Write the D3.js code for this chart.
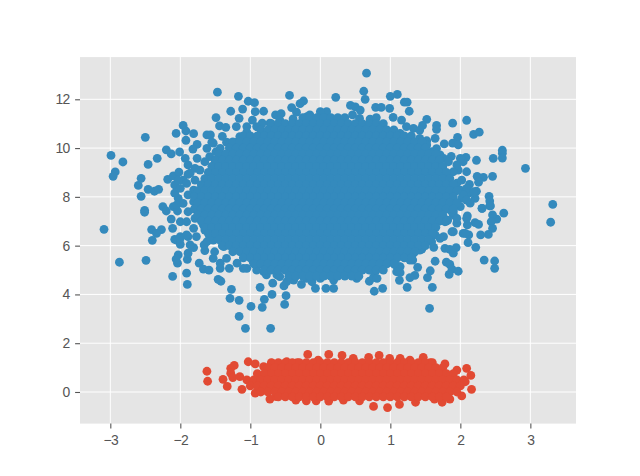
<!DOCTYPE html>
<html><head><meta charset="utf-8">
<script src="https://cdn.jsdelivr.net/npm/d3@7"></script>
<style>html,body{margin:0;background:#fff}svg{display:block}</style></head>
<body><svg id="c" width="640" height="476"></svg>
<script>
const xTicks=[-3,-2,-1,0,1,2,3];
const yTicks=[0,2,4,6,8,10,12];
const blueColor="#348ABD", redColor="#E24A33";
// outer blue dots read one by one
const blueEdge=[[-1.47,12.29],[-1.17,12.12],[-1.03,11.92],[-.94,11.86],[-1.28,11.51],[-1.11,11.6],[-.44,12.16],[-.24,11.93],[-.29,11.82],[-.41,11.66],[-.34,11.47],[-1.49,11.25],[-1.16,11.22],[-.93,11.49],[-.81,11.51],[-.97,11.15],[-.64,11.36],[-.56,11.41],[-.83,11.02],[-1.44,10.91],[-1.35,10.85],[-1.2,10.88],[-1.05,10.88],[-1.96,10.93],[-1.92,10.7],[-1.81,10.59],[-2.06,10.6],[-2.5,10.44],[-1.62,10.54],[-1.57,10.54],[-1.4,10.48],[-1.92,10.32],[-1.76,10.15],[-1.53,10.2],[-1.34,10.24],[-1.19,10.24],[-1.82,9.96],[-1.62,9.99],[-2.2,9.93],[-2.13,9.76],[-2.01,9.84],[-1.93,9.58],[-1.49,9.85],[-2.99,9.7],[-2.82,9.43],[-2.33,9.58],[-2.46,9.33],[-2.93,9.02],[-2.96,8.84],[-2.56,8.76],[-2.6,8.47],[-2.46,8.31],[-2.37,8.23],[-2.31,8.31],[-2.56,8.02],[-2.18,8.72],[-2.1,8.86],[-2.02,9.01],[-1.89,9.31],[-1.76,9.58],[-1.65,9.44],[-1.89,8.92],[-1.96,8.69],[-2.08,8.49],[-1.81,8.28],[-2.03,7.94],[-2.25,7.6],[-2.1,7.6],[-2.51,7.45],[-2.51,7.37],[-2.2,7.42],[-2.04,7.42],[-2.13,7.09],[-2,6.98],[-2.11,6.71],[-3.09,6.67],[-2.41,6.66],[-2.27,6.66],[-2.4,6.22],[-2.34,6.5],[-2.08,6.26],[-2,6.37],[-1.89,6.37],
[-2.87,5.32],[-2.49,5.4],[-2.11,4.74],[-1.91,4.87],[-1.9,4.41],[-2.04,5.28],[-2.03,5.62],[-2.06,5.45],[-1.9,5.44],[-1.89,5.69],[-1.81,5.92],[-1.65,5.8],[-1.66,6.03],[-1.51,5.75],[-1.53,5.48],[-1.73,5.28],[-1.67,5.04],[-1.59,5],[-1.43,5.07],[-1.3,5.07],[-1.46,4.62],[-1.42,4.54],[-1.27,4.21],[-1.29,3.84],[-1.16,3.76],[-.99,3.51],[-1.16,3.1],[-1.07,2.61],[-.71,2.61],[-.86,4.29],[-.8,3.8],[-.83,3.47],[-.69,4],[-.49,3.95],[-.51,3.59],[-.68,4.46],[-.52,4.35],[-.48,4.52],[-.27,4.41],[-.12,4.52],[-.07,4.25],[-2.05,6.23],[-2,6.05],[-1.91,6.44],[-1.05,5.07],[-.96,5.34],[-.81,4.93],[-.62,4.8],[-.38,4.8],[0,4.66],
[3.32,7.69],[3.29,6.96],[2.62,7.33],[2.52,7.09],[2.46,7.26],[2.44,6.98],[2.46,6.71],[2.4,6.46],[2.29,6.44],[2.1,7.22],[2.21,6.94],[2.26,6.87],[2.1,6.85],[2.04,6.5],[2.12,6.44],[2.11,6.12],[2.22,5.93],[2.34,5.41],[2.49,5.37],[2.49,5.07],[1.78,5.89],[1.85,5.85],[1.94,5.92],[1.9,5.69],[1.62,5.93],[1.45,5.86],[1.64,5.36],[1.8,5.32],[1.85,5.23],[1.88,5.04],[1.97,4.95],[1.84,4.82],[1.57,4.97],[1.53,4.69],[1.6,4.29],[1.39,5.11],[1.35,4.78],[1.28,4.69],[1.24,4.29],[1.13,4.58],[1.14,4.89],[1.32,5.41],[1.56,3.43],[.89,4.25],[.77,4.13],[.7,4.54],[.76,4.7],[.81,4.66],[.52,4.66],[.44,4.87],[.31,4.97],[.31,4.89],[.19,4.25],[.08,4.25],[.19,4.59],[.09,4.8],[.69,5.14],[1.14,5.14],[1.07,5.21],[.5,4.8],[2,7.6],[2.31,7.53],[2.42,7.63],[1.9,7.26],[1.95,6.92],[1.82,7.05],[1.88,6.57],
[.66,13.07],[.62,12.33],[.64,12],[.22,12.08],[1,12.12],[1.1,12.2],[1.2,11.88],[1.24,11.88],[1.27,11.51],[.43,11.75],[.5,11.69],[.57,11.56],[.79,11.67],[.87,11.67],[.99,11.63],[1.04,11.26],[1.16,11.15],[.71,11.19],[.8,11.25],[.46,11.36],[.56,11.22],[.09,11.49],[1.52,11.18],[1.46,10.93],[1.66,10.93],[1.66,10.77],[1.89,11.02],[2.09,11.14],[2.19,10.56],[2.27,10.65],[1.64,10.4],[1.96,10.44],[1.77,10.17],[1.89,10.2],[1.97,10.13],[1.66,9.98],[1.33,10.81],[1.52,10.3],[2.6,9.91],[2.6,9.79],[2.6,9.59],[2.47,9.58],[2.23,9.5],[2.93,9.17],[2.08,9.62],[1.87,9.66],[2.04,9.44],[2.09,9.03],[2.24,8.84],[2.33,8.8],[2.46,8.84],[2.26,8.6],[2.13,8.51],[2.23,8.23],[2.12,8.15],[2.41,8.02],[2.42,7.83],[2.43,7.63],[2.21,7.94],[2.14,7.74],[2.31,7.53],[1.95,8.56],[2,8.28],[2.02,7.94],[1.9,7.39],[1.81,7.94],[1.81,8.9],[1.76,9.58],[1.97,9.1],[-.15,11.36],[0,11.49],[.21,11.15],[.35,10.95]];
// blue dots in the crowded band around the solid mass
const blueBand=[[-1.55,10.24],[-1.43,9.99],[-1.29,10.2],[-1.15,10.47],[-1.05,10.65],[-.91,10.88],[-.72,11.02],[-.58,11.15],[-.39,11.2],[-.19,11.29],[-1.58,9.65],[-1.5,9.44],[-1.79,9.17],[-1.72,9.1],[-1.86,8.97],[-2.03,8.69],[-1.91,8.55],[-1.79,8.69],[-2.08,8.15],[-2,8.35],[-1.89,8.08],[-1.81,7.8],[-1.96,7.73],[-2.05,7.67],[-1.89,7.39],[-1.79,7.12],[-1.91,6.98],[-1.81,6.71],[-1.67,6.85],[-1.77,6.37],[-1.62,6.16],[-1.86,6.03],[-1.65,6.64],[-2,6.3],[-1.53,6.23],[-1.58,6.37],[-1.38,5.96],[-1.34,5.48],[-1.43,5.28],[-1.19,5.28],[-1.1,5.07],[-.91,5],[-.77,4.8],[-.58,4.73],[-.2,4.66],[-.38,4.59],
[1.42,10.74],[1.23,10.88],[1.14,10.6],[1.52,10.13],[1.42,10.4],[1.59,9.85],[1.71,9.72],[1.83,9.44],[1.95,9.31],[2,9.58],[1.9,9.03],[2.02,8.69],[2.09,8.35],[1.9,8.21],[2.04,8.08],[2.19,8.21],[2.09,7.87],[1.95,7.67],[1.88,7.39],[2.09,7.12],[1.95,7.12],[1.78,6.98],[1.9,6.57],[2.07,6.5],[1.76,6.37],[1.64,6.44],[1.71,6.3],[1.59,6.16],[1.42,5.82],[1.33,5.69],[1.28,5.41],[1.12,5.14],[1.09,4.93],[.78,5],[.62,5.07]];
// solid blue mass: estimated dots, one x list per y row
const blueRowY=[11.25,11,10.75,10.5,10.25,10,9.75,9.5,9.25,9,8.75,8.5,8.25,8,7.75,7.5,7.25,7,6.75,6.5,6.25,6,5.75,5.5,5.25,5,4.75];
const blueRowX=[
[-.25,-.15,-.05,.05,.15,.25,.35],
[-.7,-.6,-.5,-.4,-.3,-.2,-.1,0,.1,.2,.3,.4,.5,.6,.7,.8,.9],
[-.85,-.75,-.65,-.55,-.45,-.35,-.25,-.15,-.05,.05,.15,.25,.35,.45,.55,.65,.75,.85,.95,1.05],
[-1.1,-1,-.9,-.8,-.7,-.6,-.5,-.4,-.3,-.2,-.1,0,.1,.2,.3,.4,.5,.6,.7,.8,.9,1,1.1,1.2,1.3],
[-1.25,-1.15,-1.05,-.95,-.85,-.75,-.65,-.55,-.45,-.35,-.25,-.15,-.05,.05,.15,.25,.35,.45,.55,.65,.75,.85,.95,1.05,1.15,1.25,1.35,1.45],
[-1.3,-1.2,-1.1,-1,-.9,-.8,-.7,-.6,-.5,-.4,-.3,-.2,-.1,0,.1,.2,.3,.4,.5,.6,.7,.8,.9,1,1.1,1.2,1.3,1.4,1.5],
[-1.45,-1.35,-1.25,-1.15,-1.05,-.95,-.85,-.75,-.65,-.55,-.45,-.35,-.25,-.15,-.05,.05,.15,.25,.35,.45,.55,.65,.75,.85,.95,1.05,1.15,1.25,1.35,1.45,1.55,1.65],
[-1.5,-1.4,-1.3,-1.2,-1.1,-1,-.9,-.8,-.7,-.6,-.5,-.4,-.3,-.2,-.1,0,.1,.2,.3,.4,.5,.6,.7,.8,.9,1,1.1,1.2,1.3,1.4,1.5,1.6,1.7],
[-1.55,-1.45,-1.35,-1.25,-1.15,-1.05,-.95,-.85,-.75,-.65,-.55,-.45,-.35,-.25,-.15,-.05,.05,.15,.25,.35,.45,.55,.65,.75,.85,.95,1.05,1.15,1.25,1.35,1.45,1.55,1.65,1.75],
[-1.6,-1.5,-1.4,-1.3,-1.2,-1.1,-1,-.9,-.8,-.7,-.6,-.5,-.4,-.3,-.2,-.1,0,.1,.2,.3,.4,.5,.6,.7,.8,.9,1,1.1,1.2,1.3,1.4,1.5,1.6,1.7,1.8],
[-1.65,-1.55,-1.45,-1.35,-1.25,-1.15,-1.05,-.95,-.85,-.75,-.65,-.55,-.45,-.35,-.25,-.15,-.05,.05,.15,.25,.35,.45,.55,.65,.75,.85,.95,1.05,1.15,1.25,1.35,1.45,1.55,1.65,1.75,1.85],
[-1.7,-1.6,-1.5,-1.4,-1.3,-1.2,-1.1,-1,-.9,-.8,-.7,-.6,-.5,-.4,-.3,-.2,-.1,0,.1,.2,.3,.4,.5,.6,.7,.8,.9,1,1.1,1.2,1.3,1.4,1.5,1.6,1.7,1.8,1.9],
[-1.75,-1.65,-1.55,-1.45,-1.35,-1.25,-1.15,-1.05,-.95,-.85,-.75,-.65,-.55,-.45,-.35,-.25,-.15,-.05,.05,.15,.25,.35,.45,.55,.65,.75,.85,.95,1.05,1.15,1.25,1.35,1.45,1.55,1.65,1.75,1.85,1.95],
[-1.8,-1.7,-1.6,-1.5,-1.4,-1.3,-1.2,-1.1,-1,-.9,-.8,-.7,-.6,-.5,-.4,-.3,-.2,-.1,0,.1,.2,.3,.4,.5,.6,.7,.8,.9,1,1.1,1.2,1.3,1.4,1.5,1.6,1.7,1.8,1.9],
[-1.75,-1.65,-1.55,-1.45,-1.35,-1.25,-1.15,-1.05,-.95,-.85,-.75,-.65,-.55,-.45,-.35,-.25,-.15,-.05,.05,.15,.25,.35,.45,.55,.65,.75,.85,.95,1.05,1.15,1.25,1.35,1.45,1.55,1.65,1.75,1.85,1.95],
[-1.8,-1.7,-1.6,-1.5,-1.4,-1.3,-1.2,-1.1,-1,-.9,-.8,-.7,-.6,-.5,-.4,-.3,-.2,-.1,0,.1,.2,.3,.4,.5,.6,.7,.8,.9,1,1.1,1.2,1.3,1.4,1.5,1.6,1.7,1.8,1.9],
[-1.75,-1.65,-1.55,-1.45,-1.35,-1.25,-1.15,-1.05,-.95,-.85,-.75,-.65,-.55,-.45,-.35,-.25,-.15,-.05,.05,.15,.25,.35,.45,.55,.65,.75,.85,.95,1.05,1.15,1.25,1.35,1.45,1.55,1.65,1.75],
[-1.7,-1.6,-1.5,-1.4,-1.3,-1.2,-1.1,-1,-.9,-.8,-.7,-.6,-.5,-.4,-.3,-.2,-.1,0,.1,.2,.3,.4,.5,.6,.7,.8,.9,1,1.1,1.2,1.3,1.4,1.5,1.6,1.7,1.8],
[-1.65,-1.55,-1.45,-1.35,-1.25,-1.15,-1.05,-.95,-.85,-.75,-.65,-.55,-.45,-.35,-.25,-.15,-.05,.05,.15,.25,.35,.45,.55,.65,.75,.85,.95,1.05,1.15,1.25,1.35,1.45,1.55,1.65],
[-1.6,-1.5,-1.4,-1.3,-1.2,-1.1,-1,-.9,-.8,-.7,-.6,-.5,-.4,-.3,-.2,-.1,0,.1,.2,.3,.4,.5,.6,.7,.8,.9,1,1.1,1.2,1.3,1.4,1.5,1.6],
[-1.45,-1.35,-1.25,-1.15,-1.05,-.95,-.85,-.75,-.65,-.55,-.45,-.35,-.25,-.15,-.05,.05,.15,.25,.35,.45,.55,.65,.75,.85,.95,1.05,1.15,1.25,1.35,1.45,1.55],
[-1.4,-1.3,-1.2,-1.1,-1,-.9,-.8,-.7,-.6,-.5,-.4,-.3,-.2,-.1,0,.1,.2,.3,.4,.5,.6,.7,.8,.9,1,1.1,1.2,1.3,1.4,1.5],
[-1.25,-1.15,-1.05,-.95,-.85,-.75,-.65,-.55,-.45,-.35,-.25,-.15,-.05,.05,.15,.25,.35,.45,.55,.65,.75,.85,.95,1.05,1.15,1.25,1.35],
[-1.1,-1,-.9,-.8,-.7,-.6,-.5,-.4,-.3,-.2,-.1,0,.1,.2,.3,.4,.5,.6,.7,.8,.9,1,1.1,1.2,1.3],
[-.95,-.85,-.75,-.65,-.55,-.45,-.35,-.25,-.15,-.05,.05,.15,.25,.35,.45,.55,.65,.75,.85,.95,1.05],
[-.8,-.7,-.6,-.5,-.4,-.3,-.2,-.1,0,.1,.2,.3,.4,.5,.6,.7,.8,.9],
[-.45,-.35,-.25,-.15,-.05,.05,.15,.25,.35,.45,.55]];
// outer red dots read one by one
const redEdge=[[-1.62,.85],[-1.61,.44],[-1.39,.52],[-1.33,.23],[-1.28,.97],[-1.23,1.09],[-1.28,.77],[-1.25,.59],[-1.15,.63],[-1.12,.11],[-1.03,1.24],[-.93,1.15],[-.18,1.54],[.12,1.54],[.31,1.5],[.47,1.38],[.69,1.42],[.84,1.5],[1.14,1.38],[1.47,1.42],[1.78,1.15],[2.09,.97],[2.15,.68],[2.16,.11],[2.02,-.16],[1.85,-.29],[1.74,-.42],[1.63,-.29],[1.36,-.42],[1.13,-.51],[.96,-.64],[.76,-.59],[.56,-.36],[.33,-.33],[.12,-.37],[-.06,-.36],[-.2,-.36],[-.35,-.33],[-.72,-.29],[-.63,-.19],[-.93,-.05],[-.48,1.24],[-.33,1.2],[-.69,1.18],[-.6,1.15],[-.81,1.04],[-.03,1.31],[.99,1.38],[1.28,1.31],[1.57,1.2],[1.95,.9],[2.07,.42]];
// solid red mass: estimated dots, one x list per y row
const redRowY=[1.2,1,.75,.5,.25,0,-.2];
const redRowX=[
[-.7,-.6,-.5,-.4,-.3,-.2,-.1,0,.1,.2,.3,.4,.5,.6,.7,.8,.9,1,1.1,1.2,1.3,1.4,1.5,1.6],
[-.75,-.65,-.55,-.45,-.35,-.25,-.15,-.05,.05,.15,.25,.35,.45,.55,.65,.75,.85,.95,1.05,1.15,1.25,1.35,1.45,1.55,1.65,1.75],
[-.9,-.8,-.7,-.6,-.5,-.4,-.3,-.2,-.1,0,.1,.2,.3,.4,.5,.6,.7,.8,.9,1,1.1,1.2,1.3,1.4,1.5,1.6,1.7,1.8,1.9],
[-1.05,-.95,-.85,-.75,-.65,-.55,-.45,-.35,-.25,-.15,-.05,.05,.15,.25,.35,.45,.55,.65,.75,.85,.95,1.05,1.15,1.25,1.35,1.45,1.55,1.65,1.75,1.85,1.95,2.05],
[-1,-.9,-.8,-.7,-.6,-.5,-.4,-.3,-.2,-.1,0,.1,.2,.3,.4,.5,.6,.7,.8,.9,1,1.1,1.2,1.3,1.4,1.5,1.6,1.7,1.8,1.9,2],
[-.85,-.75,-.65,-.55,-.45,-.35,-.25,-.15,-.05,.05,.15,.25,.35,.45,.55,.65,.75,.85,.95,1.05,1.15,1.25,1.35,1.45,1.55,1.65,1.75,1.85,1.95],
[-.6,-.5,-.4,-.3,-.2,-.1,0,.1,.2,.3,.4,.5,.6,.7,.8,.9,1,1.1,1.2,1.3,1.4,1.5,1.6,1.7,1.8]];

const pL=80,pR=576,pT=57.1,pB=423.6;
const x=d3.scaleLinear().domain([-3.433,3.652]).range([pL,pR]);
const y=d3.scaleLinear().domain([-1.296,13.73]).range([pB,pT]);
const svg=d3.select("#c");
svg.append("rect").attr("x",pL).attr("y",pT).attr("width",pR-pL).attr("height",pB-pT).attr("fill","#E5E5E5");
const font="Liberation Sans, sans-serif";
const grid=svg.append("g").attr("stroke","#fff").attr("stroke-width",1);
grid.selectAll(".gx").data(xTicks).join("line").attr("class","gx").attr("x1",d=>x(d)).attr("x2",d=>x(d)).attr("y1",pT).attr("y2",pB);
grid.selectAll(".gy").data(yTicks).join("line").attr("class","gy").attr("y1",d=>y(d)).attr("y2",d=>y(d)).attr("x1",pL).attr("x2",pR);
const ax=svg.append("g").attr("transform",`translate(0,${pB})`).call(d3.axisBottom(x).tickValues(xTicks).tickSize(4.9).tickPadding(6.2).tickFormat(d3.format("d")));
const ay=svg.append("g").attr("transform",`translate(${pL},0)`).call(d3.axisLeft(y).tickValues(yTicks).tickSize(4.9).tickPadding(5.5).tickFormat(d3.format("d")));
[ax,ay].forEach(a=>{a.select(".domain").remove();a.selectAll("line").attr("stroke","#555555").attr("stroke-width",1.1);a.selectAll("text").attr("fill","#555555").style("font-family",font).style("font-size","13.9px").style("letter-spacing","-0.7px");});
const pts=(edge,ys,xs)=>edge.concat(ys.flatMap((v,i)=>xs[i].map(u=>[u,v])));
const plot=svg.append("g");
plot.append("g").attr("fill",redColor).selectAll("circle").data(pts(redEdge,redRowY,redRowX)).join("circle").attr("cx",d=>x(d[0])).attr("cy",d=>y(d[1])).attr("r",4.4);
plot.append("g").attr("fill",blueColor).selectAll("circle").data(pts(blueEdge.concat(blueBand),blueRowY,blueRowX)).join("circle").attr("cx",d=>x(d[0])).attr("cy",d=>y(d[1])).attr("r",4.4);
</script></body></html>
